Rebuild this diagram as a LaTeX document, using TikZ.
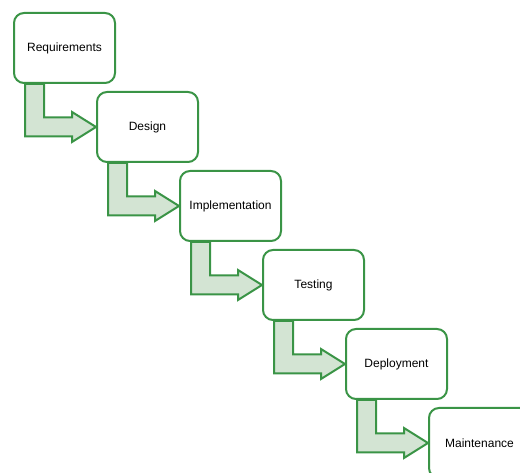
\documentclass[tikz,border=0pt]{standalone}
\usepackage{fontspec}
\setmainfont{Liberation Sans}
\usetikzlibrary{calc,backgrounds}
\definecolor{gstroke}{HTML}{3A9446}
\definecolor{gfill}{HTML}{D3E4D3}
\begin{document}
\begin{tikzpicture}[x=1pt,y=1pt,
  stagebox/.style={draw=gstroke, line width=2pt, fill=white, rounded corners=10pt,
    minimum width=101pt, minimum height=70pt, inner sep=0pt, font=\fontsize{12}{14}\selectfont},
  flowarrow/.style={draw=gstroke, fill=gfill, line width=2pt, line join=miter}]
\useasboundingbox (0,0) rectangle (520,473);
\clip (0,0) rectangle (520,473);
\foreach \i/\name/\txt in {1/b1/Requirements,2/b2/Design,3/b3/Implementation,4/b4/Testing,5/b5/Deployment,6/b6/Maintenance}{
  \node[stagebox] (\name) at ({64.5+83*(\i-1)},{473-48-79*(\i-1)}) {\txt};
}
\begin{pgfonlayer}{background}
\foreach \a/\b in {b1/b2,b2/b3,b3/b4,b4/b5,b5/b6}{
  \coordinate (p1) at ($(\a.south west)+(12,0)$);
  \coordinate (p2) at ($(\a.south west)+(31,0)$);
  \coordinate (q1) at ($(\b.west)+(0,9.5)$);
  \coordinate (q2) at ($(\b.west)+(0,-9.5)$);
  \draw[flowarrow]
    (p1) -- (p2) -- (p2 |- q1) --
    ($(\b.west)+(-24,9.5)$) --
    ($(\b.west)+(-24,15)$) --
    (\b.west) --
    ($(\b.west)+(-24,-15)$) --
    ($(\b.west)+(-24,-9.5)$) --
    (p1 |- q2) -- cycle;
}
\end{pgfonlayer}
\end{tikzpicture}
\end{document}
